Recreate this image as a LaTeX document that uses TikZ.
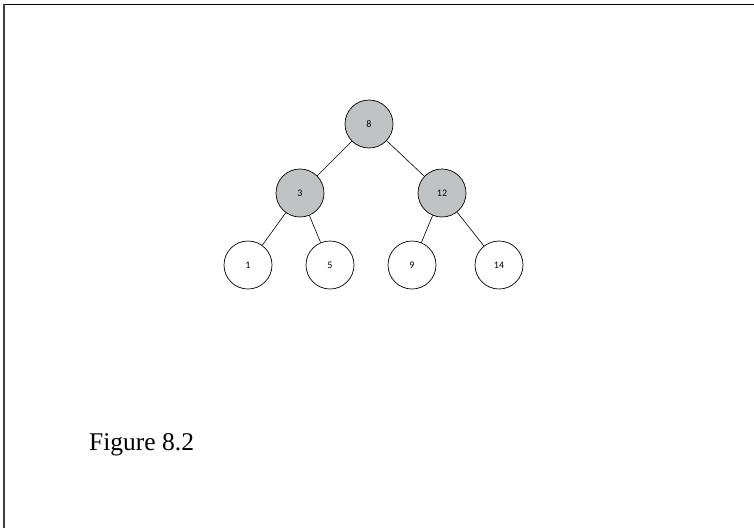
\documentclass[tikz,border=0pt]{standalone}
\usepackage{fontspec}
\setmainfont{Liberation Serif}
\newfontfamily\keyfont{Carlito}
\usetikzlibrary{positioning, calc}
\definecolor{keygray}{RGB}{191,195,195}

\begin{document}
\begin{tikzpicture}[
  x=1pt, y=-1pt,
  font=\keyfont\fontsize{10}{12}\selectfont,
  keynode/.style={circle, draw=black, line width=0.7pt, minimum size=48pt,
                  inner sep=0pt, fill=white},
  innerkey/.style={keynode, fill=keygray},
  treeedge/.style={draw=black, line width=0.6pt}
]
\useasboundingbox (0,0) rectangle (754,528);

% ---------------------------------------------- frame
\draw[line width=1.5pt] (3,4.5) -- (754,4.5);
\draw[line width=1.5pt, black!75] (4,4) -- (4,528);

% ---------------------------------------------- the tree
\node[innerkey] (k8)  at (369,124) {8};
\node[innerkey] (k3)  at (300,193) {3};
\node[innerkey] (k12) at (442,193) {12};
\node[keynode]  (k1)  at (248,265) {1};
\node[keynode]  (k5)  at (330,265) {5};
\node[keynode]  (k9)  at (412,265) {9};
\node[keynode]  (k14) at (499,265) {14};

\draw[treeedge] (k8) -- (k3);
\draw[treeedge] (k8) -- (k12);
\draw[treeedge] (k3) -- (k1);
\draw[treeedge] (k3) -- (k5);
\draw[treeedge] (k12) -- (k9);
\draw[treeedge] (k12) -- (k14);

% ---------------------------------------------- caption
\node[anchor=base west, inner sep=0pt, font=\fontsize{25.5}{30}\selectfont]
  (caption) at (89,450) {Figure 8.2};

\end{tikzpicture}
\end{document}
